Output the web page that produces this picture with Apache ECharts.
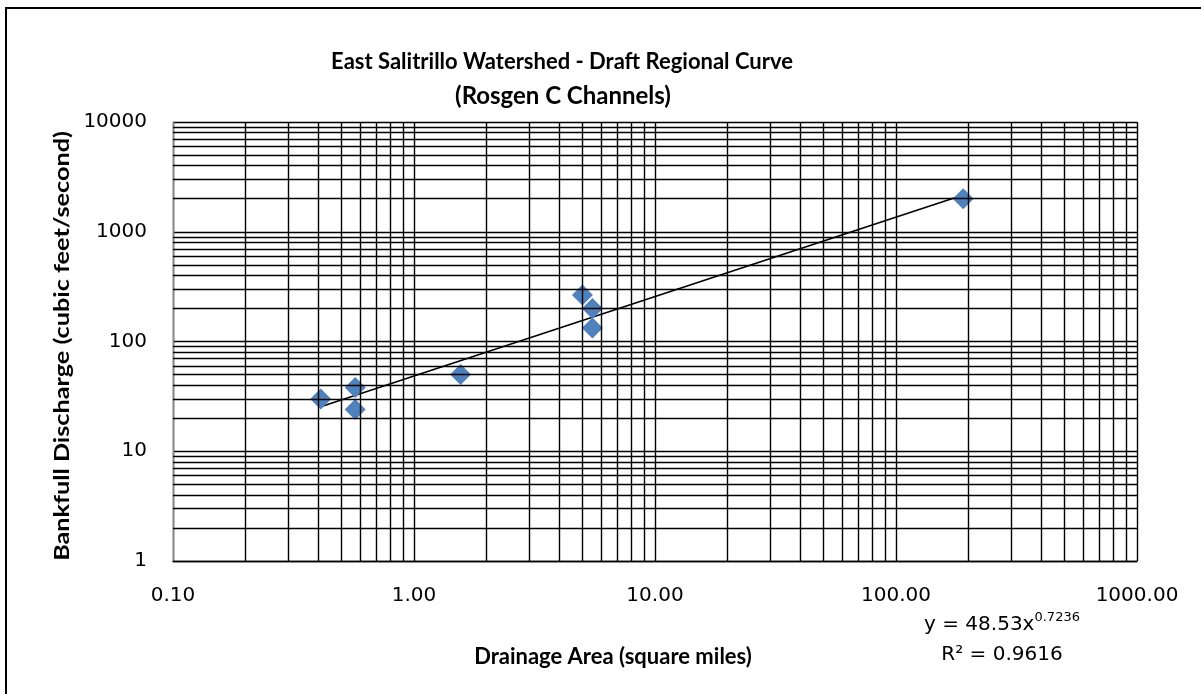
<!DOCTYPE html>
<html>
<head>
<meta charset="utf-8">
<script src="https://cdn.jsdelivr.net/npm/echarts@6/dist/echarts.min.js"></script>
<style>
  html, body { margin: 0; padding: 0; background: #fff; }
  #chart { width: 1201px; height: 694px; }
</style>
</head>
<body>
<div id="chart"></div>
<script>
// Drainage area (sq mi) and bankfull discharge (cfs) for surveyed C-type reaches
const drainageArea = [0.41, 0.57, 0.57, 1.56, 5.0, 5.5, 5.5, 190];
const bankfullQ    = [30, 38, 24, 50, 265, 200, 133, 2000];

// Power-law fit reported for the data set
const fitA = 48.53;
const fitB = 0.7236;
const fitR2 = 0.9616;

// Axis decades
const xDecades = [0.1, 1, 10, 100];
const yDecades = [1, 10, 100, 1000];

const points = drainageArea.map((x, i) => [x, bankfullQ[i]]);
const xMin = Math.min(...drainageArea);
const xMax = Math.max(...drainageArea);
const fitLine = [xMin, xMax].map(x => [x, fitA * Math.pow(x, fitB)]);

// Minor grid at 2..9 within each decade
const minorX = [], minorY = [];
xDecades.forEach(d => { for (let k = 2; k <= 9; k++) minorX.push({ xAxis: +(k * d).toPrecision(3) }); });
yDecades.forEach(d => { for (let k = 2; k <= 9; k++) minorY.push({ yAxis: k * d }); });

const font = 'Lato, "Open Sans", sans-serif';
const numFont = '"DejaVu Sans", sans-serif';
const gridStyle = { color: '#000', width: 1.4, type: 'solid' };

const chart = echarts.init(document.getElementById('chart'), null, { renderer: 'canvas' });
chart.setOption({
  animation: false,
  backgroundColor: '#fff',
  grid: { left: 173, right: 64, top: 122, bottom: 133 },
  xAxis: {
    type: 'log', logBase: 10, min: 0.1, max: 1000,
    axisLine: { show: true, lineStyle: { color: '#000', width: 1.4 } },
    axisTick: { show: false },
    splitLine: { show: true, lineStyle: gridStyle },
    axisLabel: {
      margin: 25, color: '#000', fontSize: 20, fontFamily: numFont,
      formatter: v => Number(v).toFixed(2)
    }
  },
  yAxis: {
    type: 'log', logBase: 10, min: 1, max: 10000,
    axisLine: { show: true, lineStyle: { color: '#888', width: 1.4 } },
    axisTick: { show: false },
    splitLine: { show: true, lineStyle: gridStyle },
    axisLabel: {
      margin: 26, color: '#000', fontSize: 20, fontFamily: numFont,
      formatter: v => String(Math.round(v))
    }
  },
  series: [
    {
      type: 'line', data: [], silent: true,
      markLine: {
        silent: true, symbol: ['none', 'none'], animation: false,
        label: { show: false },
        lineStyle: gridStyle,
        emphasis: { disabled: true },
        data: minorX.concat(minorY)
      }
    },
    {
      name: 'Power fit', type: 'line', data: fitLine,
      symbol: 'none', lineStyle: { color: '#000', width: 1.6 }, z: 3
    },
    {
      name: 'Reaches', type: 'scatter', data: points,
      symbol: 'diamond', symbolSize: [21, 21],
      itemStyle: { color: '#4F81BD', opacity: 1 }, z: 4
    }
  ],
  graphic: [
    {
      type: 'rect', silent: true,
      shape: { x: 6, y: 8, width: 1220, height: 720 },
      style: { fill: 'none', stroke: '#000', lineWidth: 2 }
    },
    {
      type: 'text', x: 562, y: 62,
      style: {
        text: 'East Salitrillo Watershed - Draft Regional Curve',
        font: 'bold 22px ' + font, fill: '#000', align: 'center', verticalAlign: 'middle'
      }
    },
    {
      type: 'text', x: 563, y: 96,
      style: {
        text: '(Rosgen C Channels)',
        font: 'bold 24px ' + font, fill: '#000', align: 'center', verticalAlign: 'middle'
      }
    },
    {
      type: 'text', x: 62, y: 346, rotation: Math.PI / 2, scaleX: 1.2,
      style: {
        text: 'Bankfull Discharge (cubic feet/second)',
        font: 'bold 21px ' + font, fill: '#000', align: 'center', verticalAlign: 'middle'
      }
    },
    {
      type: 'text', x: 613, y: 657,
      style: {
        text: 'Drainage Area (square miles)',
        font: 'bold 22px ' + font, fill: '#000', align: 'center', verticalAlign: 'middle'
      }
    },
    {
      type: 'text', x: 1002, y: 623,
      style: {
        text: '{b|y = ' + fitA.toFixed(2) + 'x}{s|' + fitB.toFixed(4) + '}',
        align: 'center', verticalAlign: 'middle',
        rich: {
          b: { font: '20px ' + numFont, fill: '#000', verticalAlign: 'bottom' },
          s: { font: '13px ' + numFont, fill: '#000', verticalAlign: 'top', padding: [0, 0, 10, 0] }
        }
      }
    },
    {
      type: 'text', x: 1002, y: 655,
      style: {
        text: 'R² = ' + fitR2.toFixed(4),
        font: '20px ' + numFont, fill: '#000', align: 'center', verticalAlign: 'middle'
      }
    }
  ]
});
</script>
</body>
</html>
